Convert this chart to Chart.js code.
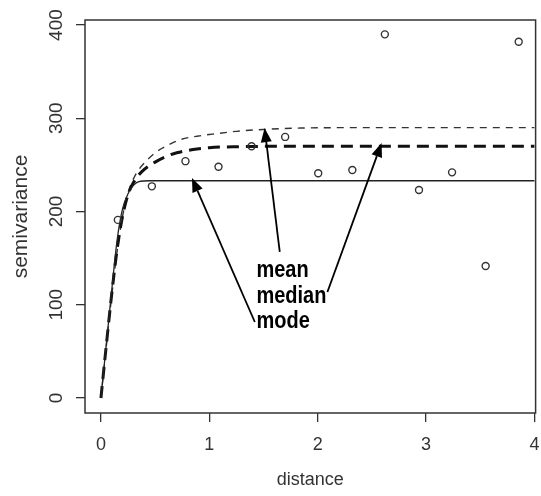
<!DOCTYPE html>
<html>
<head>
<meta charset="utf-8">
<script src="https://cdn.jsdelivr.net/npm/chart.js@4.4.1/dist/chart.umd.min.js"></script>
<style>
html,body{margin:0;padding:0;background:#fff;}
#wrap{width:541px;height:496px;}
</style>
</head>
<body>
<div id="wrap"><canvas id="c" width="541" height="496"></canvas></div>
<script>
// ---- data ----
const distances    = [0.156, 0.47, 0.78, 1.085, 1.39, 1.70, 2.005, 2.32, 2.62, 2.935, 3.24, 3.55, 3.855];
const semivariance = [191, 227, 254, 248, 270, 280, 241, 244.5, 390, 223, 242, 141.5, 382];

const modeDist   = [0, 0.05, 0.10, 0.15, 0.20, 0.25, 0.30, 0.35, 0.45, 4.0];
const modeGamma  = [0, 58, 116, 170, 203, 219, 228, 232, 233, 233];

const medianDist  = [0, 0.05, 0.10, 0.15, 0.20, 0.25, 0.30, 0.38, 0.50, 0.60, 0.70, 0.85, 1.00, 1.30, 1.60, 4.0];
const medianGamma = [0, 57, 112, 160, 195, 218, 231, 243, 253, 259, 263, 266.5, 268.5, 269.5, 270, 270];

const meanDist  = [0, 0.05, 0.10, 0.15, 0.20, 0.25, 0.30, 0.35, 0.40, 0.50, 0.60, 0.73, 0.90, 1.03, 1.25, 1.50, 1.85, 2.50, 4.0];
const meanGamma = [0, 56, 110, 158, 195, 220, 235, 245, 252, 263, 270, 277, 281, 283, 286, 288, 289.5, 290, 290];

const xTickValues = [0, 1, 2, 3, 4];
const yTickValues = [0, 100, 200, 300, 400];

// annotation labels and arrows, in data coordinates
const annoLabels = ["mean", "median", "mode"];
const annoLabelX = 1.435;
const annoLabelY = [137, 109, 81.5];
const arrowFrom = [[1.65, 156.6], [2.09, 113.7], [1.42, 81.5]];
const arrowTo   = [[1.51, 289.5], [2.59, 273.5], [0.84, 236]];

const pts = (xs, ys) => xs.map((v, i) => ({x: v, y: ys[i]}));

const annoPlugin = {
  id: 'anno',
  afterDatasetsDraw(chart) {
    const {ctx, chartArea: a, scales: {x, y}} = chart;
    ctx.save();
    // arrows
    ctx.strokeStyle = '#000';
    ctx.fillStyle = '#000';
    ctx.lineWidth = 1.8;
    arrowFrom.forEach((f, i) => {
      const x0 = x.getPixelForValue(f[0]), y0 = y.getPixelForValue(f[1]);
      const x1 = x.getPixelForValue(arrowTo[i][0]), y1 = y.getPixelForValue(arrowTo[i][1]);
      const ang = Math.atan2(y1 - y0, x1 - x0);
      const hl = 14, hw = 5.5;
      const bx = x1 - hl * Math.cos(ang), by = y1 - hl * Math.sin(ang);
      ctx.beginPath();
      ctx.moveTo(x0, y0);
      ctx.lineTo(bx, by);
      ctx.stroke();
      ctx.beginPath();
      ctx.moveTo(x1, y1);
      ctx.lineTo(bx + hw * Math.sin(ang), by - hw * Math.cos(ang));
      ctx.lineTo(bx - hw * Math.sin(ang), by + hw * Math.cos(ang));
      ctx.closePath();
      ctx.fill();
    });
    // labels
    ctx.font = 'bold 20px "Liberation Sans", Arial, sans-serif';
    ctx.textAlign = 'left';
    ctx.textBaseline = 'middle';
    annoLabels.forEach((t, i) => {
      const px = x.getPixelForValue(annoLabelX), py = y.getPixelForValue(annoLabelY[i]);
      ctx.save();
      ctx.translate(px, py);
      ctx.scale(1, 1.15);
      ctx.fillText(t, 0, 0);
      ctx.restore();
    });
    // plot box
    ctx.strokeStyle = '#333';
    ctx.lineWidth = 1.5;
    ctx.strokeRect(a.left, a.top, a.right - a.left, a.bottom - a.top);
    ctx.restore();
  }
};

new Chart(document.getElementById('c'), {
  type: 'scatter',
  data: {
    datasets: [
      {
        label: 'observed',
        data: pts(distances, semivariance),
        showLine: false,
        pointStyle: 'circle',
        pointRadius: 3.5,
        pointBorderWidth: 1.4,
        pointBorderColor: '#333',
        pointBackgroundColor: 'rgba(255,255,255,0)',
        order: 0
      },
      {
        label: 'mode',
        type: 'line',
        data: pts(modeDist, modeGamma),
        borderColor: '#222',
        borderWidth: 1.3,
        pointRadius: 0,
        cubicInterpolationMode: 'monotone',
        fill: false,
        order: 1
      },
      {
        label: 'median',
        type: 'line',
        data: pts(medianDist, medianGamma),
        borderColor: '#111',
        borderWidth: 3,
        borderDash: [12, 7],
        pointRadius: 0,
        cubicInterpolationMode: 'monotone',
        fill: false,
        order: 2
      },
      {
        label: 'mean',
        type: 'line',
        data: pts(meanDist, meanGamma),
        borderColor: '#333',
        borderWidth: 1.4,
        borderDash: [7, 6],
        pointRadius: 0,
        cubicInterpolationMode: 'monotone',
        fill: false,
        order: 3
      }
    ]
  },
  options: {
    responsive: false,
    animation: false,
    devicePixelRatio: 1,
    layout: {padding: {top: 20, right: 4, left: 0, bottom: 0}},
    plugins: {legend: {display: false}, tooltip: {enabled: false}},
    scales: {
      x: {
        type: 'linear',
        min: -0.147,
        max: 4.011,
        afterBuildTicks: s => { s.ticks = xTickValues.map(v => ({value: v})); },
        afterFit: s => { s.height = 83; s.paddingLeft = 0; s.paddingRight = 0; },
        grid: {display: true, drawOnChartArea: false, drawTicks: true, tickLength: 9, color: '#333', lineWidth: 1.3},
        border: {display: false},
        ticks: {
          color: '#333',
          font: {family: '"Liberation Sans", Arial, sans-serif', size: 18},
          padding: 12,
          maxRotation: 0,
          callback: v => String(v)
        },
        title: {
          display: true,
          text: 'distance',
          color: '#333',
          font: {family: '"Liberation Sans", Arial, sans-serif', size: 18},
          padding: {top: 0, bottom: 5}
        }
      },
      y: {
        type: 'linear',
        min: -16.1,
        max: 405.4,
        afterBuildTicks: s => { s.ticks = yTickValues.map(v => ({value: v})); },
        afterFit: s => { s.width = 85; s.paddingTop = 0; s.paddingBottom = 0; },
        grid: {display: true, drawOnChartArea: false, drawTicks: true, tickLength: 9, color: '#333', lineWidth: 1.3},
        border: {display: false},
        ticks: {
          color: '#333',
          font: {family: '"Liberation Sans", Arial, sans-serif', size: 19},
          padding: 3,
          minRotation: 90,
          maxRotation: 90,
          crossAlign: 'center',
          callback: v => String(v)
        },
        title: {
          display: true,
          text: 'semivariance',
          color: '#333',
          font: {family: '"Liberation Sans", Arial, sans-serif', size: 21},
          padding: {top: 9, bottom: 0}
        }
      }
    }
  },
  plugins: [annoPlugin]
});
</script>
</body>
</html>
